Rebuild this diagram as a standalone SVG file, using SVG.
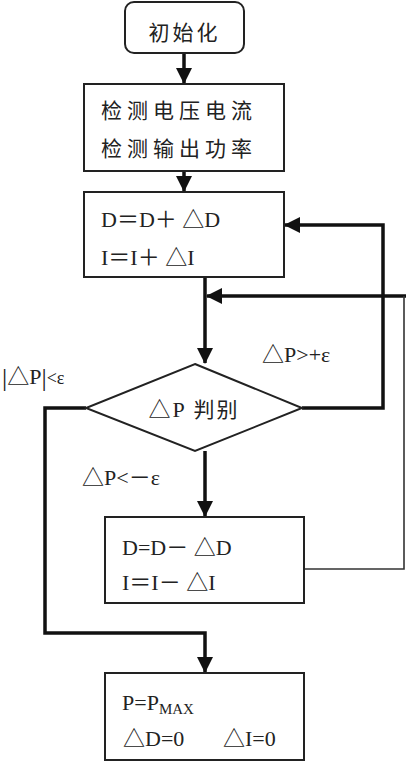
<svg xmlns="http://www.w3.org/2000/svg" width="406" height="765" viewBox="0 0 406 765">
<style>
.box{fill:#fff;stroke:#222;stroke-width:2}
.thick{fill:none;stroke:#111;stroke-width:3.5;stroke-linejoin:miter}
.thin{fill:none;stroke:#333;stroke-width:1.6}
.cjk{font-family:"Noto Sans CJK SC","Noto Sans CJK JP",sans-serif;font-size:21px;fill:#222}
.math{font-family:"Liberation Serif","Noto Sans CJK SC",serif;font-size:22px;fill:#222}
</style>
<defs>
<marker id="ah" markerWidth="16" markerHeight="16" viewBox="0 0 16 16" refX="15" refY="8" orient="auto" markerUnits="userSpaceOnUse">
<path d="M0,0 L16,8 L0,16 Z" fill="#111"/>
</marker>
</defs>
<rect width="406" height="765" fill="#fff"/>
<g id="connectors">
<line class="thick" x1="184" y1="53" x2="184" y2="83" marker-end="url(#ah)"/>
<line class="thick" x1="184" y1="171" x2="184" y2="191" marker-end="url(#ah)"/>
<line class="thick" x1="205" y1="277" x2="205" y2="363" marker-end="url(#ah)"/>
<polyline class="thick" points="406,296 207,296" marker-end="url(#ah)"/>
<polyline class="thick" points="302,408 383,408 383,225 285,225" marker-end="url(#ah)"/>
<line class="thick" x1="205" y1="451" x2="205" y2="516" marker-end="url(#ah)"/>
<polyline class="thick" points="86,408 45,408 45,633 205,633 205,672" marker-end="url(#ah)"/>
<polyline class="thin" points="304,569 404,569 404,296"/>
</g>
<g id="n1">
<rect class="box" x="125" y="2" width="119" height="51" rx="9"/>
<text class="cjk" x="184.5" y="40" text-anchor="middle" letter-spacing="3">初始化</text>
</g>
<g id="n2">
<rect class="box" x="84" y="84" width="200" height="87"/>
<text class="cjk" x="101" y="118" letter-spacing="5">检测电压电流</text>
<text class="cjk" x="101" y="156" letter-spacing="5">检测输出功率</text>
</g>
<g id="n3">
<rect class="box" x="84" y="192" width="200" height="85"/>
<text class="math" x="101" y="227">D＝D＋ △D</text>
<text class="math" x="101" y="265">I＝I＋ △I</text>
</g>
<g id="n4">
<polygon class="box" points="195,364 302,408 195,451 86,408"/>
<text class="cjk" x="194" y="417" text-anchor="middle" font-size="22" letter-spacing="2"><tspan class="math">△P</tspan> 判别</text>
</g>
<g id="n5">
<rect class="box" x="105" y="517" width="199" height="86"/>
<text class="math" x="122" y="555">D=D－ △D</text>
<text class="math" x="122" y="590">I＝I－ △I</text>
</g>
<g id="n6">
<rect class="box" x="105" y="673" width="199" height="87"/>
<text class="math" x="122" y="710">P=P<tspan font-size="15" dy="4">MAX</tspan></text>
<text class="math" x="123" y="746">△D=0</text>
<text class="math" x="223" y="746">△I=0</text>
</g>
<g id="labels">
<text class="math" x="2" y="384"><tspan font-size="26" dy="2">|</tspan><tspan dy="-2">△P</tspan><tspan font-size="26" dy="2">|</tspan><tspan font-size="18" dy="-2">&lt;ε</tspan></text>
<text class="math" x="262" y="362">△P&gt;+ε</text>
<text class="math" x="82" y="485">△P&lt;－ε</text>
</g>
</svg>
